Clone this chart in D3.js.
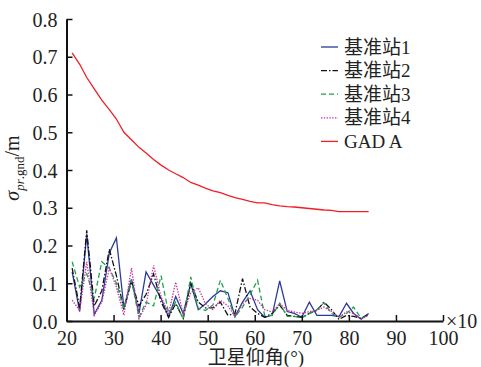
<!DOCTYPE html>
<html>
<head>
<meta charset="utf-8">
<script src="https://cdn.jsdelivr.net/npm/d3@7"></script>
<style>
  body { margin: 0; background: #fff; }
  text { font-family: "Liberation Serif", "Noto Sans CJK SC", serif; fill: #222; }
</style>
</head>
<body>
<div id="chart"></div>
<script>
// elevation angle (x10 deg)
const elev = [21.2, 22.8, 24.3, 25.9, 27.5, 29.1, 30.6, 32.2, 33.8, 35.4, 36.9, 38.5, 40.1, 41.7,
  43.2, 44.8, 46.4, 48.0, 49.5, 51.1, 52.7, 54.3, 55.8, 57.4, 59.0, 60.6, 62.1, 63.7, 65.3, 66.9,
  68.4, 70.0, 71.6, 73.2, 74.7, 76.3, 77.9, 79.5, 81.0, 82.6, 84.2];

const station1 = [0.13, 0.025, 0.23, 0.018, 0.055, 0.18, 0.22, 0.035, 0.11, 0.02, 0.13, 0.095, 0.06, 0.01,
  0.065, 0.02, 0.10, 0.03, 0.045, 0.065, 0.08, 0.075, 0.012, 0.05, 0.08, 0.03, 0.01, 0.015, 0.106, 0.025,
  0.02, 0.01, 0.05, 0.015, 0.015, 0.015, 0.012, 0.047, 0.02, 0.005, 0.02];
const station2 = [0.14, 0.035, 0.24, 0.04, 0.08, 0.19, 0.12, 0.03, 0.105, 0.04, 0.07, 0.125, 0.05, 0.01,
  0.046, 0.007, 0.10, 0.05, 0.035, 0.035, 0.05, 0.015, 0.02, 0.112, 0.037, 0.02, 0.01, 0.02, 0.042, 0.015,
  0.012, 0.01, 0.02, 0.028, 0.05, 0.03, 0.004, 0.015, 0.012, 0.007, 0.018];
const station3 = [0.157, 0.09, 0.125, 0.06, 0.157, 0.14, 0.10, 0.033, 0.108, 0.01, 0.05, 0.04, 0.12, 0.02,
  0.05, 0.005, 0.117, 0.033, 0.028, 0.042, 0.108, 0.06, 0.01, 0.037, 0.07, 0.108, 0.015, 0.015, 0.047, 0.012,
  0.012, 0.008, 0.02, 0.03, 0.048, 0.02, 0.01, 0.02, 0.037, 0.007, 0.015];
const station4 = [0.055, 0.028, 0.157, 0.015, 0.05, 0.14, 0.09, 0.015, 0.14, 0.006, 0.042, 0.147, 0.064, 0.02,
  0.103, 0.018, 0.075, 0.088, 0.046, 0.03, 0.055, 0.04, 0.012, 0.046, 0.06, 0.055, 0.03, 0.024, 0.046, 0.028,
  0.024, 0.02, 0.025, 0.028, 0.037, 0.025, 0.01, 0.024, 0.02, 0.005, 0.015];
const gada = [0.71, 0.68, 0.645, 0.615, 0.585, 0.56, 0.535, 0.50, 0.48, 0.46, 0.445, 0.428, 0.413, 0.40,
  0.39, 0.38, 0.367, 0.36, 0.352, 0.345, 0.34, 0.333, 0.327, 0.322, 0.317, 0.313, 0.313, 0.308, 0.305, 0.303,
  0.302, 0.30, 0.298, 0.296, 0.294, 0.293, 0.29, 0.29, 0.29, 0.29, 0.29];

const seriesNames = ['基准站1', '基准站2', '基准站3', '基准站4', 'GAD A'];
const xTicks = [20, 30, 40, 50, 60, 70, 80, 90, 100];
const yTicks = [0, 0.1, 0.2, 0.3, 0.4, 0.5, 0.6, 0.7, 0.8];

const width = 481, height = 367;
const margin = { top: 19, right: 38, bottom: 46, left: 66.5 };

const svg = d3.select('#chart').append('svg')
  .attr('width', width)
  .attr('height', height);

const x = d3.scaleLinear().domain([20, 100]).range([margin.left, width - margin.right]);
const y = d3.scaleLinear().domain([0, 0.8]).range([height - margin.bottom, margin.top]);

const styles = [
  { data: station1, color: '#2b3a9a', dash: null },
  { data: station2, color: '#111', dash: '6,2,1.5,2' },
  { data: station3, color: '#1fa24a', dash: '5,3' },
  { data: station4, color: '#c8309f', dash: '1.4,1.4' },
  { data: gada, color: '#ee1f26', dash: null }
];

const line = d3.line().x((d, i) => x(elev[i])).y(d => y(d));

// series
styles.forEach(s => {
  svg.append('path')
    .datum(s.data)
    .attr('d', line)
    .attr('fill', 'none')
    .attr('stroke', s.color)
    .attr('stroke-width', 1.3)
    .attr('stroke-dasharray', s.dash);
});

// axes, ticks pointing inward
const xAxis = svg.append('g')
  .attr('transform', `translate(0,${y(0)})`)
  .call(d3.axisBottom(x).tickValues(xTicks).tickSizeInner(-6).tickSizeOuter(0).tickPadding(10));
const yAxis = svg.append('g')
  .attr('transform', `translate(${x(20)},0)`)
  .call(d3.axisLeft(y).tickValues(yTicks).tickFormat(d3.format('.1f')).tickSizeInner(-6).tickSizeOuter(0).tickPadding(9));

[xAxis, yAxis].forEach(g => {
  g.select('.domain').attr('stroke', '#111').attr('stroke-width', 2);
  g.selectAll('.tick line').attr('stroke', '#111').attr('stroke-width', 1.5);
  g.selectAll('.tick text')
    .style('font-family', '"Liberation Serif", serif')
    .style('font-size', '20px')
    .attr('fill', '#222');
});
yAxis.selectAll('.tick text').attr('dy', '0.35em');

// x10 exponent label
svg.append('text')
  .attr('x', 446)
  .attr('y', 328)
  .style('font-size', '20px')
  .text('×10');

// x axis title (sits at the bottom edge like the original)
svg.append('text')
  .attr('x', 256)
  .attr('y', 364)
  .attr('text-anchor', 'middle')
  .style('font-size', '19px')
  .text('卫星仰角(°)');

// y axis title
const yt = svg.append('text')
  .attr('transform', 'translate(19,168) rotate(-90)')
  .attr('text-anchor', 'middle')
  .style('font-size', '20px');
yt.append('tspan').style('font-style', 'italic').text('σ');
yt.append('tspan').attr('dy', 5).style('font-size', '13px').style('font-style', 'italic').text('pr');
yt.append('tspan').style('font-size', '13px').text('.gnd');
yt.append('tspan').attr('dy', -5).text('/m');

// legend
const legend = svg.append('g');
styles.forEach((s, i) => {
  const ly = 47 + i * 23.6;
  legend.append('line')
    .attr('x1', 321).attr('x2', 338)
    .attr('y1', ly).attr('y2', ly)
    .attr('stroke', s.color)
    .attr('stroke-width', 1.3)
    .attr('stroke-dasharray', s.dash);
  legend.append('text')
    .attr('x', 344)
    .attr('y', ly)
    .attr('dy', '0.35em')
    .style('font-size', '19px')
    .text(seriesNames[i]);
});
</script>
</body>
</html>
